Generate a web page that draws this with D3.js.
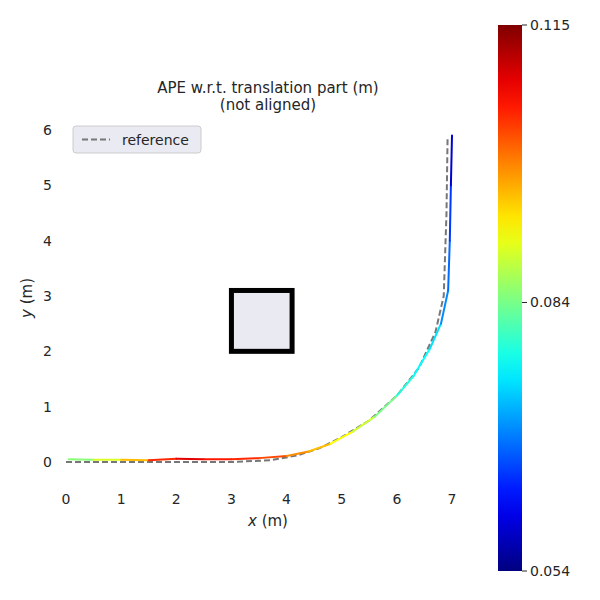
<!DOCTYPE html>
<html><head><meta charset="utf-8">
<script src="https://cdn.jsdelivr.net/npm/d3@7"></script>
<style>body{margin:0;background:#fff}text{font-family:"DejaVu Sans",sans-serif;fill:#262626}</style>
</head><body><svg id="c" width="600" height="600"></svg>
<script>
// reference trajectory (x, y)
const refX = [0, 1, 2, 3, 3.7, 4.2, 4.6, 5.0, 5.5, 6.0, 6.4, 6.7, 6.85, 6.9, 6.92];
const refY = [0, 0, 0, 0, 0.03, 0.12, 0.25, 0.45, 0.75, 1.2, 1.7, 2.35, 3.0, 4.5, 5.88];
// estimated trajectory and APE
const estX = [0.05, 0.5, 1.0, 1.5, 2.0, 2.5, 3.0, 3.5, 4.0, 4.4, 4.8, 5.2, 5.6, 6.0, 6.3, 6.6, 6.8, 6.93, 6.96, 6.98, 7.0];
const estY = [0.05, 0.04, 0.04, 0.03, 0.06, 0.05, 0.05, 0.07, 0.11, 0.19, 0.33, 0.55, 0.82, 1.2, 1.55, 2.05, 2.5, 3.1, 4.0, 5.0, 5.9];
const estErr = [0.082, 0.088, 0.092, 0.1, 0.11, 0.108, 0.104, 0.106, 0.1, 0.098, 0.094, 0.09, 0.088, 0.08, 0.078, 0.076, 0.074, 0.066, 0.07, 0.06, 0.058];
const errMin = 0.054, errMax = 0.115;
const cbTicks = [0.054, 0.084, 0.115];
const xTicks = [0, 1, 2, 3, 4, 5, 6, 7];
const yTicks = [0, 1, 2, 3, 4, 5, 6];
const obstacle = {x0: 3.0, x1: 4.1, y0: 2.0, y1: 3.1};

const svg = d3.select('#c');
const x = d3.scaleLinear().domain([0, 7]).range([66, 452]);
const y = d3.scaleLinear().domain([0, 6]).range([462, 130]);
const color = d3.scaleSequential(t => jet(t)).domain([errMin, errMax]);

function jet(t) {
  const r = Math.min(1, Math.max(0, 1.5 - Math.abs(4 * t - 3)));
  const g = Math.min(1, Math.max(0, 1.5 - Math.abs(4 * t - 2)));
  const b = Math.min(1, Math.max(0, 1.5 - Math.abs(4 * t - 1)));
  return d3.rgb(r * 255, g * 255, b * 255).toString();
}

// title
svg.append('text').attr('x', 268).attr('y', 93).attr('text-anchor', 'middle').attr('font-size', 15).text('APE w.r.t. translation part (m)');
svg.append('text').attr('x', 268).attr('y', 110).attr('text-anchor', 'middle').attr('font-size', 15).text('(not aligned)');

// axes ticks
svg.selectAll('.xt').data(xTicks).join('text').attr('x', d => x(d)).attr('y', 504)
  .attr('text-anchor', 'middle').attr('font-size', 14).text(d => d);
svg.selectAll('.yt').data(yTicks).join('text').attr('x', 52).attr('y', d => y(d) + 5)
  .attr('text-anchor', 'end').attr('font-size', 14).text(d => d);
svg.append('text').attr('x', 268).attr('y', 526).attr('text-anchor', 'middle').attr('font-size', 15)
  .html('<tspan font-style="italic">x</tspan> (m)');
svg.append('text').attr('transform', 'translate(32,298) rotate(-90)').attr('text-anchor', 'middle').attr('font-size', 15)
  .html('<tspan font-style="italic">y</tspan> (m)');

// obstacle
svg.append('rect').attr('x', x(obstacle.x0)).attr('y', y(obstacle.y1))
  .attr('width', x(obstacle.x1) - x(obstacle.x0)).attr('height', y(obstacle.y0) - y(obstacle.y1))
  .attr('fill', '#eaeaf2').attr('stroke', '#000').attr('stroke-width', 5);

// reference
const line = d3.line().x(d => x(d[0])).y(d => y(d[1]));
svg.append('path').datum(refX.map((v, i) => [v, refY[i]])).attr('d', line)
  .attr('fill', 'none').attr('stroke', '#777').attr('stroke-width', 2).attr('stroke-dasharray', '6,3');

// estimate colored segments
for (let i = 0; i < estX.length - 1; i++) {
  svg.append('line').attr('x1', x(estX[i])).attr('y1', y(estY[i]))
    .attr('x2', x(estX[i + 1])).attr('y2', y(estY[i + 1]))
    .attr('stroke', color((estErr[i] + estErr[i + 1]) / 2)).attr('stroke-width', 2).attr('stroke-linecap', 'round');
}

// legend
const lg = svg.append('g').attr('transform', 'translate(73,126)');
lg.append('rect').attr('width', 128).attr('height', 27).attr('rx', 3).attr('fill', '#eaeaf2').attr('stroke', '#ccc');
lg.append('line').attr('x1', 9).attr('x2', 37).attr('y1', 13.5).attr('y2', 13.5)
  .attr('stroke', '#777').attr('stroke-width', 2).attr('stroke-dasharray', '6,3');
lg.append('text').attr('x', 49).attr('y', 19).attr('font-size', 14).text('reference');

// colorbar
const cb = d3.scaleLinear().domain([errMin, errMax]).range([571, 25]);
const defs = svg.append('defs');
const grad = defs.append('linearGradient').attr('id', 'g').attr('x1', 0).attr('x2', 0).attr('y1', 1).attr('y2', 0);
d3.range(0, 1.001, 0.05).forEach(t => grad.append('stop').attr('offset', t).attr('stop-color', jet(t)));
svg.append('rect').attr('x', 498).attr('y', 25).attr('width', 24).attr('height', 546).attr('fill', 'url(#g)');
cbTicks.forEach(t => {
  svg.append('line').attr('x1', 522).attr('x2', 527).attr('y1', cb(t)).attr('y2', cb(t)).attr('stroke', '#262626');
  svg.append('text').attr('x', 530).attr('y', cb(t) + 5).attr('font-size', 14).text(t.toFixed(3));
});
</script></body></html>
